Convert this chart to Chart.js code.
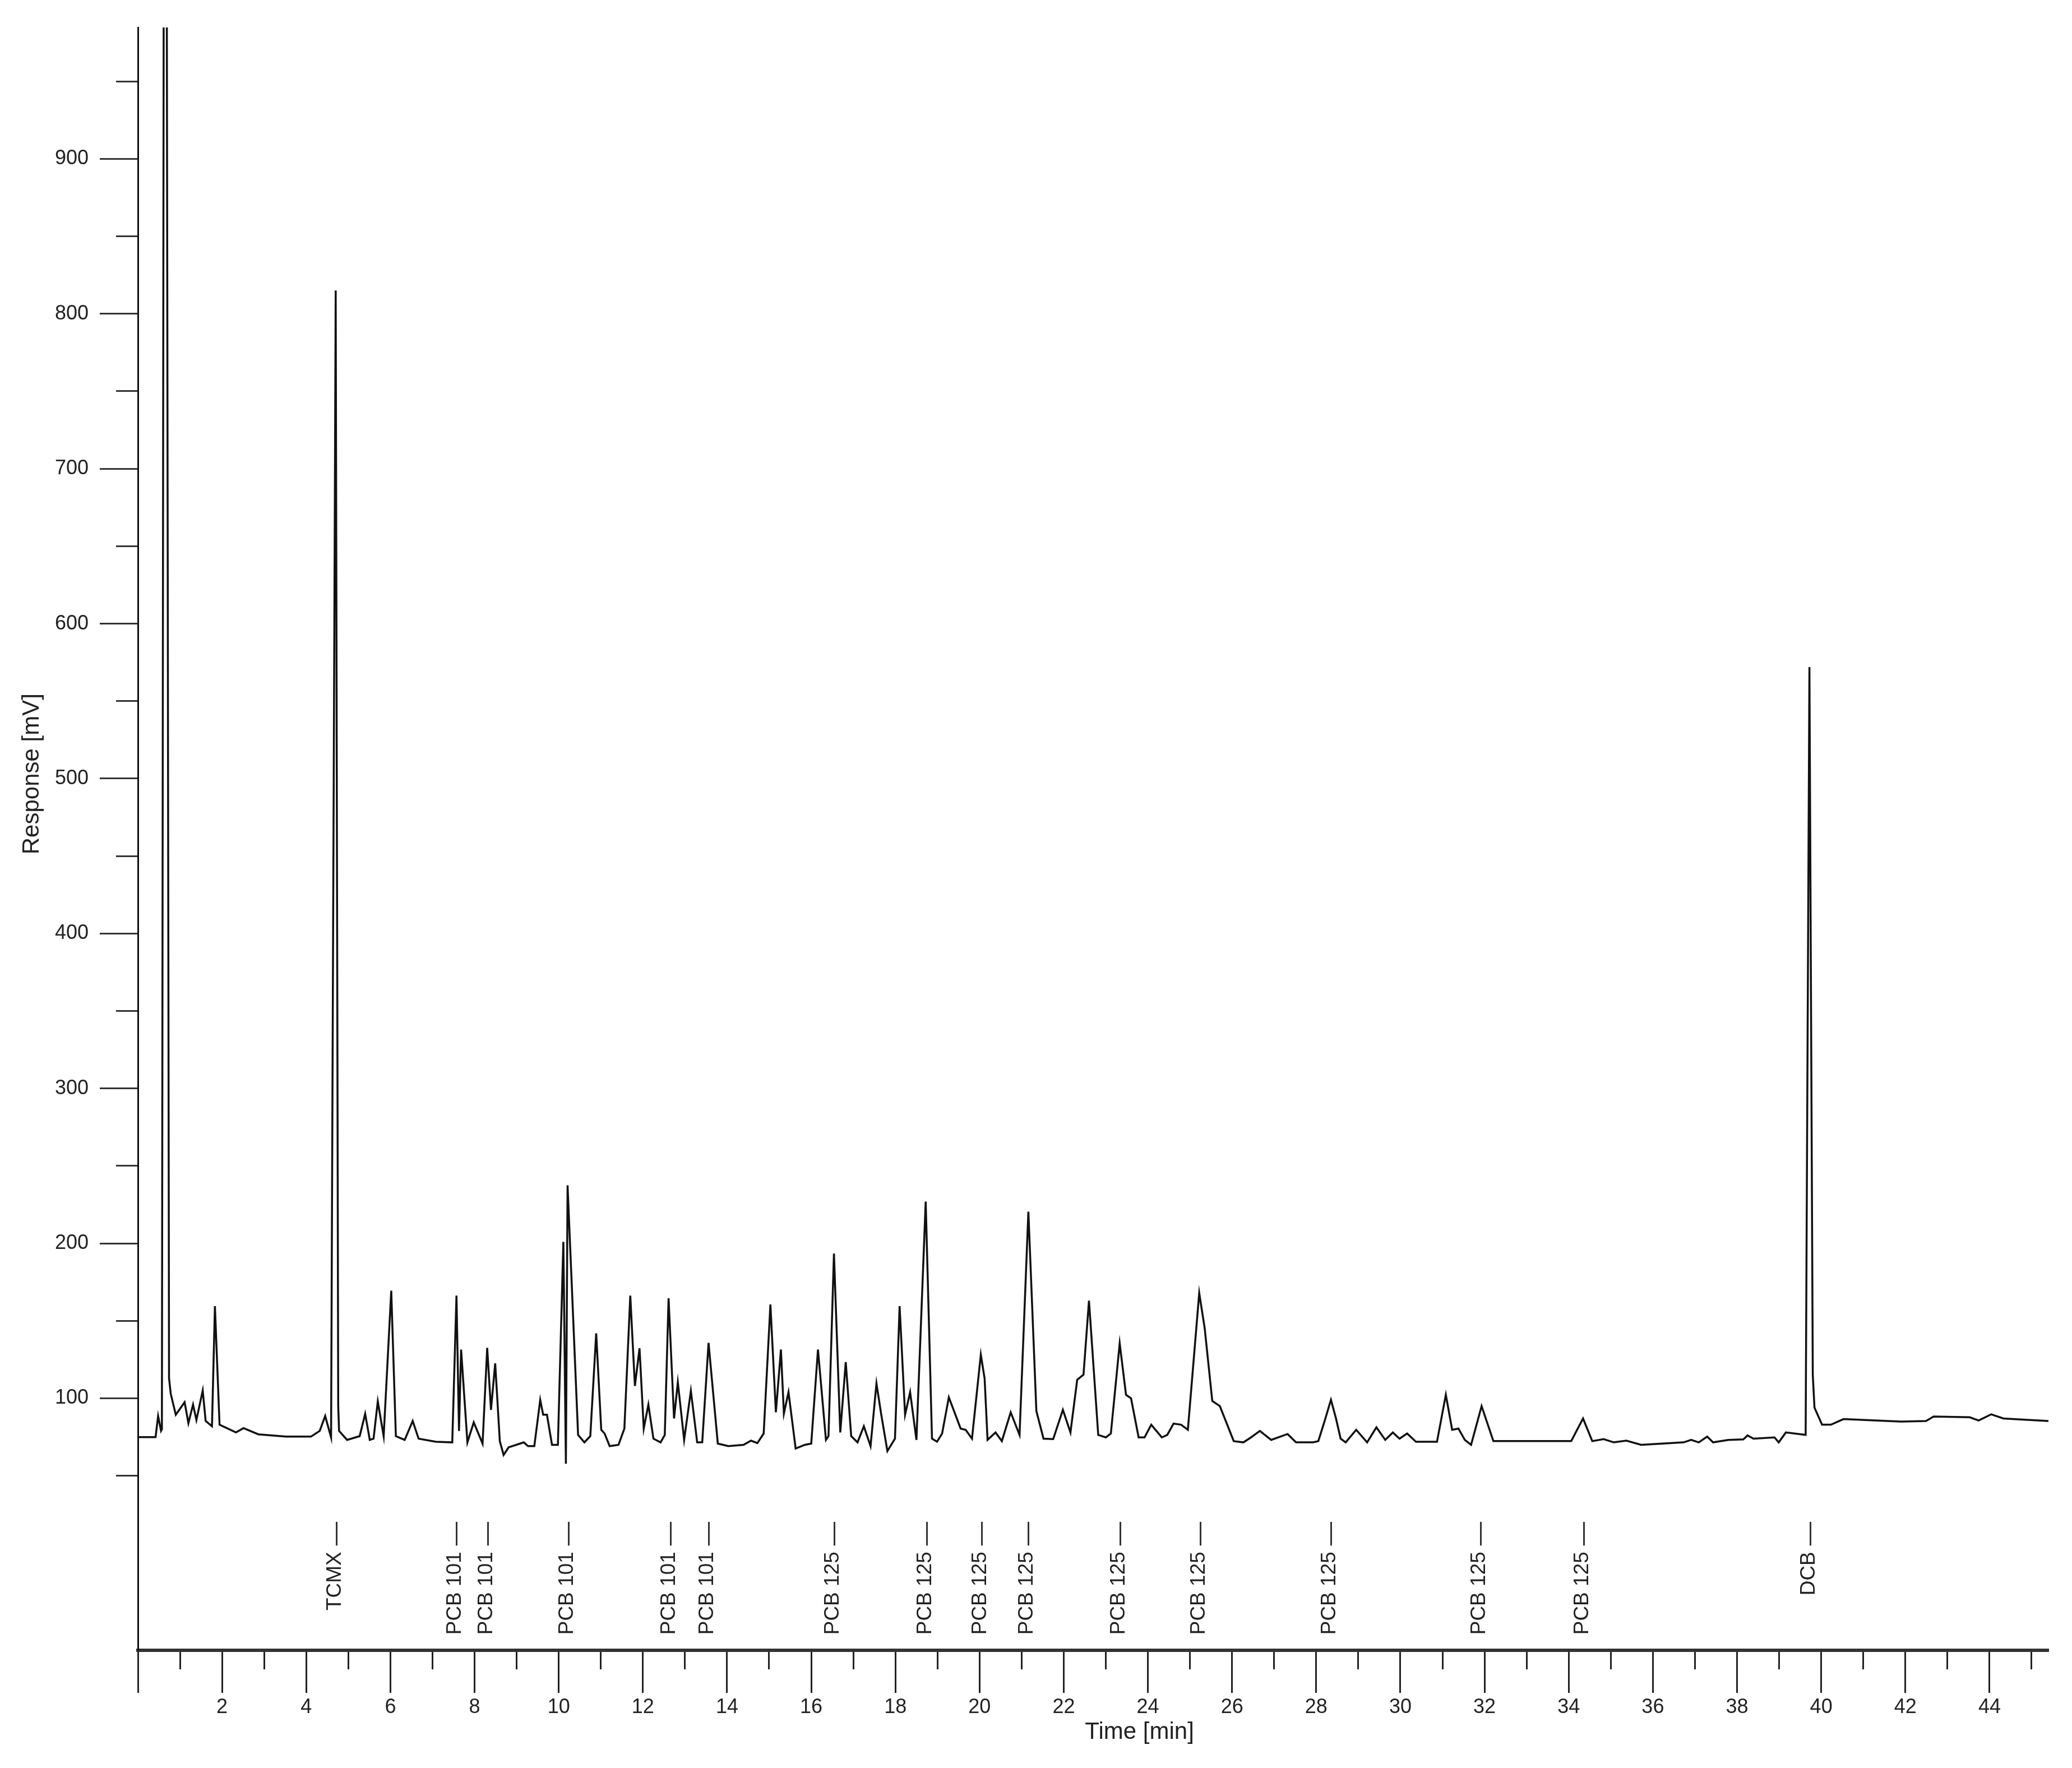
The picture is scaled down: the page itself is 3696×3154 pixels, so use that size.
<!DOCTYPE html>
<html>
<head>
<meta charset="utf-8">
<script src="https://cdn.jsdelivr.net/npm/chart.js@4.4.1/dist/chart.umd.min.js"></script>
<style>
  html, body { margin: 0; padding: 0; background: #fff; }
  #wrap { width: 3696px; height: 3154px; }
</style>
</head>
<body>
<div id="wrap"><canvas id="chromatogram"></canvas></div>
<script>
'use strict';

// retention time [min] and detector response [mV]
let times = [
  0.00, 0.42, 0.48, 0.55, 0.57, 0.645, 0.74, 0.78, 0.90, 1.11, 1.20, 1.31, 1.39, 1.54, 1.61, 1.76, 1.83, 1.94,
  2.33, 2.51, 2.86, 3.52, 4.11, 4.32, 4.45, 4.59, 4.70, 4.76, 4.78, 4.97, 5.27, 5.40, 5.51, 5.60, 5.70, 5.84, 6.02, 6.13,
  6.34, 6.53, 6.67, 7.08, 7.47, 7.57, 7.63, 7.68, 7.83, 7.98, 8.19, 8.30, 8.39, 8.49, 8.60, 8.69, 8.81, 8.99, 9.17, 9.27,
  9.42, 9.56, 9.63, 9.72, 9.84, 9.98, 10.11, 10.17, 10.21, 10.46, 10.61, 10.75, 10.89, 11.01, 11.09, 11.21, 11.42, 11.56, 11.70, 11.81,
  11.92, 12.02, 12.13, 12.25, 12.42, 12.52, 12.61, 12.74, 12.83, 12.98, 13.14, 13.29, 13.41, 13.56, 13.78, 14.03, 14.39, 14.57, 14.72, 14.87,
  15.03, 15.16, 15.28, 15.35, 15.46, 15.63, 15.85, 16.00, 16.16, 16.35, 16.41, 16.54, 16.69, 16.82, 16.95, 17.10, 17.25, 17.41, 17.55, 17.66,
  17.81, 17.99, 18.10, 18.23, 18.35, 18.50, 18.72, 18.87, 18.99, 19.11, 19.27, 19.55, 19.67, 19.82, 20.03, 20.12, 20.19, 20.38, 20.53, 20.74,
  20.95, 21.16, 21.35, 21.52, 21.75, 21.98, 22.16, 22.32, 22.47, 22.60, 22.82, 23.00, 23.12, 23.33, 23.48, 23.60, 23.78, 23.92, 24.08, 24.33,
  24.46, 24.61, 24.79, 24.95, 25.22, 25.35, 25.53, 25.71, 26.04, 26.27, 26.45, 26.66, 26.93, 27.32, 27.52, 27.93, 28.05, 28.20, 28.35, 28.47,
  28.58, 28.70, 28.95, 29.21, 29.43, 29.64, 29.82, 29.98, 30.16, 30.37, 30.87, 31.08, 31.23, 31.38, 31.53, 31.68, 31.93, 32.21, 34.06, 34.34,
  34.56, 34.83, 35.07, 35.37, 35.72, 36.73, 36.91, 37.09, 37.29, 37.43, 37.79, 38.15, 38.25, 38.39, 38.89, 38.99, 39.16, 39.63, 39.72, 39.80,
  39.84, 40.02, 40.23, 40.53, 41.90, 42.49, 42.67, 43.53, 43.74, 44.04, 44.33, 45.40
];
let response = [
  75, 75, 88.6, 79, 80, 1700, 113, 103, 89.4, 97.5, 84, 96, 86, 105, 85.4, 82, 159.5, 83,
  78, 80.8, 76.8, 75.3, 75.3, 79, 88.6, 74.8, 815, 95, 79, 73.2, 75.6, 90, 73.2, 74, 98, 75.6, 169.5, 75.6,
  73.2, 85.4, 74, 72, 71.6, 166.3, 79, 131.5, 71.6, 84.5, 70.8, 132.6, 92.6, 122.6, 72.4, 63.5, 68.4, 70, 71.6, 69.2,
  69.2, 99, 89.4, 89.4, 70, 70, 201, 57.8, 237.5, 76.4, 71.6, 75.6, 142, 79.7, 77.3, 69.2, 70, 80.5, 166.3, 108,
  132.3, 80.5, 96, 74, 71.6, 76.4, 164.6, 87, 110.4, 73.2, 104.8, 71.6, 71.6, 135.8, 70.8, 69.2, 70, 72.7, 71.1, 77.3,
  160.6, 91, 131.5, 90.2, 104, 67.6, 70, 70.8, 131.5, 73.2, 75.6, 193.4, 78, 123.4, 75.6, 71.6, 82, 69.2, 109.6, 90.2,
  66, 74, 159.5, 89.4, 104, 73.2, 227, 74, 72, 77.3, 100.7, 80.5, 79.7, 74, 128.2, 112.8, 73.2, 78, 72.4, 91,
  76.4, 220.5, 91.8, 74, 73.7, 92.6, 78, 112, 115.3, 163, 76.4, 74.8, 77.3, 135.5, 102.3, 100, 74.8, 74.8, 83, 74.8,
  76.4, 83.7, 83, 79.7, 168, 145.2, 98.3, 95, 72.4, 71.6, 74.8, 79, 73.2, 77, 71.6, 71.6, 72.4, 85.4, 99.1, 87,
  74, 71.6, 79.7, 71.6, 81.3, 73.2, 78, 74, 77.3, 72, 72, 102.3, 79.7, 80.5, 73.2, 70, 95, 72.4, 72.4, 87,
  72.4, 73.7, 71.6, 72.7, 70, 71.6, 73.2, 71.6, 75.3, 71.6, 73.2, 73.5, 76.1, 74, 74.8, 71.6, 78, 76.4, 572, 115,
  94, 83, 83, 86.6, 85, 85.4, 88.3, 87.8, 85.7, 89.7, 87, 85.4
];

// peak identification markers
let peakNames = ['TCMX', 'PCB 101', 'PCB 101', 'PCB 101', 'PCB 101', 'PCB 101',
  'PCB 125', 'PCB 125', 'PCB 125', 'PCB 125', 'PCB 125', 'PCB 125', 'PCB 125', 'PCB 125', 'PCB 125', 'DCB'];
let peakTimes = [4.71, 7.57, 8.31, 10.23, 12.65, 13.56, 16.54, 18.75, 20.05, 21.15, 23.34, 25.24, 28.35, 31.91, 34.35, 39.74];

let xMin = 0;
let xMax = 45.4;
let yMin = -62.6;
let yMax = 984.8;
let xTitle = 'Time [min]';
let yTitle = 'Response [mV]';

let fontFamily = '"Liberation Sans", Arial, sans-serif';
let ink = '#222';

let points = [];
for (let i = 0; i < times.length; i++) {
  points.push({ x: times[i], y: response[i] });
}

// markers under the peaks plus the two axis titles
let peakLabels = {
  id: 'peakLabels',
  afterDraw(chart) {
    let ctx = chart.ctx;
    let xs = chart.scales.x;
    let ys = chart.scales.y;
    ctx.save();
    ctx.strokeStyle = '#333';
    ctx.lineWidth = 3;
    ctx.fillStyle = ink;
    ctx.font = '37px ' + fontFamily;
    ctx.textAlign = 'right';
    ctx.textBaseline = 'middle';
    for (let i = 0; i < peakTimes.length; i++) {
      let px = Math.round(xs.getPixelForValue(peakTimes[i])) + 0.5;
      ctx.beginPath();
      ctx.moveTo(px, ys.getPixelForValue(20.3));
      ctx.lineTo(px, ys.getPixelForValue(5));
      ctx.stroke();
      ctx.save();
      ctx.translate(px - 3, ys.getPixelForValue(1));
      ctx.rotate(-Math.PI / 2);
      ctx.fillText(peakNames[i], 0, 0);
      ctx.restore();
    }

    ctx.font = '42px ' + fontFamily;
    ctx.textAlign = 'center';
    ctx.fillText(xTitle, xs.getPixelForValue(23.8), xs.bottom - 64);
    ctx.save();
    ctx.translate(ys.left + 57, ys.getPixelForValue(503));
    ctx.rotate(-Math.PI / 2);
    ctx.fillText(yTitle, 0, 0);
    ctx.restore();
    ctx.restore();
  }
};

let config = {
  type: 'line',
  data: {
    datasets: [{
      label: 'Response',
      data: points,
      borderColor: '#111',
      borderWidth: 3.5,
      pointRadius: 0,
      tension: 0,
      fill: false
    }]
  },
  options: {
    responsive: true,
    maintainAspectRatio: false,
    animation: false,
    devicePixelRatio: 1,
    layout: { padding: { top: 49, right: 42, left: 0, bottom: 0 } },
    plugins: {
      legend: { display: false },
      tooltip: { enabled: false }
    },
    scales: {
      x: {
        type: 'linear',
        min: xMin,
        max: xMax,
        afterFit(scale) { scale.height = 210; },
        border: { display: true, color: '#333', width: 6 },
        grid: {
          drawOnChartArea: false,
          drawTicks: true,
          tickLength: 76,
          tickWidth: 3,
          tickColor: ink,
          tickBorderDash: (c) => (c.tick && Math.round(c.tick.value) % 2 !== 0) ? [31, 300] : []
        },
        ticks: {
          stepSize: 1,
          autoSkip: false,
          includeBounds: false,
          maxRotation: 0,
          padding: 4,
          color: ink,
          font: { size: 36, family: fontFamily },
          callback: (v) => (v > 0 && Math.round(v) % 2 === 0) ? String(Math.round(v)) : ''
        }
      },
      y: {
        type: 'linear',
        min: yMin,
        max: yMax,
        afterFit(scale) { scale.width = 246; },
        border: { display: true, color: '#111', width: 3 },
        grid: {
          drawOnChartArea: false,
          drawTicks: true,
          tickLength: 68,
          tickWidth: 3,
          tickColor: (c) => (c.tick && c.tick.value >= 50) ? '#333' : 'rgba(0,0,0,0)',
          tickBorderDash: (c) => (c.tick && Math.round(c.tick.value) % 100 !== 0) ? [0, 29, 300, 0] : []
        },
        ticks: {
          stepSize: 50,
          autoSkip: false,
          includeBounds: false,
          padding: 20,
          color: ink,
          font: { size: 36, family: fontFamily },
          callback: (v) => (v >= 100 && Math.round(v) % 100 === 0) ? String(Math.round(v)) : ''
        }
      }
    }
  },
  plugins: [peakLabels]
};

const chromatogram = new Chart(document.getElementById('chromatogram'), config);
</script>
</body>
</html>
